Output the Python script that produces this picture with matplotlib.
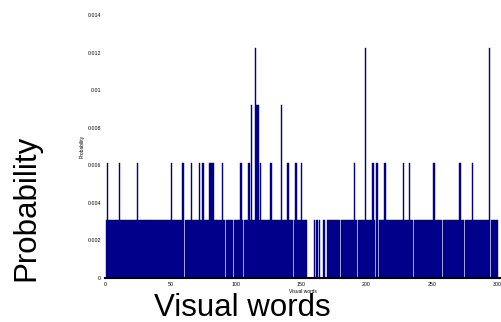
import numpy as np
import matplotlib.pyplot as plt

# visual word histogram (counts per word)
n_words = 300
zero_words = [61, 92, 98, 106, 144, 155, 156, 157, 158, 159, 161, 163, 165, 166,
              169, 180, 193, 207, 209, 236, 258, 275, 295]
two_words = [2, 11, 25, 51, 59, 60, 66, 72, 75, 80, 81, 82, 83, 90, 104, 110, 119,
             127, 140, 146, 150, 191, 205, 208, 214, 228, 233, 251, 252, 271, 272, 281]
three_words = [112, 116, 117, 135]
four_words = [115, 199, 294]

xticks = [0, 50, 100, 150, 200, 250, 300]
yticks = [0, 0.002, 0.004, 0.006, 0.008, 0.01, 0.012, 0.014]

words = np.arange(1, n_words + 1)
counts = np.ones(n_words)
counts[np.array(zero_words) - 1] = 0
counts[np.array(two_words) - 1] = 2
counts[np.array(three_words) - 1] = 3
counts[np.array(four_words) - 1] = 4
prob = counts / counts.sum()

plt.rcParams['font.family'] = ['Liberation Sans', 'DejaVu Sans']

fig = plt.figure(figsize=(5.02, 3.22), dpi=100)
ax = fig.add_axes([105 / 502, 1 - 278 / 322, 395 / 502, 263 / 322])

ax.bar(words, prob, width=1.0, color='#00008a', edgecolor='#00008a',
       linewidth=0.3)

ax.set_xlim(0, 302)
ax.set_ylim(0, 0.014)
ax.set_xticks(xticks)
ax.set_yticks(yticks)
ax.set_xticklabels([str(t) for t in xticks])
ax.set_yticklabels(['0', '0.002', '0.004', '0.006', '0.008', '0.01', '0.012', '0.014'])
ax.tick_params(labelsize=3.8, length=0, pad=3)

for s in ['top', 'right', 'left']:
    ax.spines[s].set_visible(False)
ax.spines['bottom'].set_linewidth(1.5)
ax.spines['bottom'].set_color('black')

# the small labels of the original plot
ax.set_xlabel('Visual words', fontsize=3.5, labelpad=1.5)
ax.set_ylabel('Probability', fontsize=3.5, labelpad=2)

# the big labels written over it
fig.text(242 / 502, 1 - 308 / 322, 'Visual words', fontsize=22.5,
         ha='center', va='center')
fig.text(26 / 502, 1 - 208 / 322, 'Probability', fontsize=22.5,
         rotation=90, ha='center', va='center')

fig.savefig('out.png', dpi=100)
